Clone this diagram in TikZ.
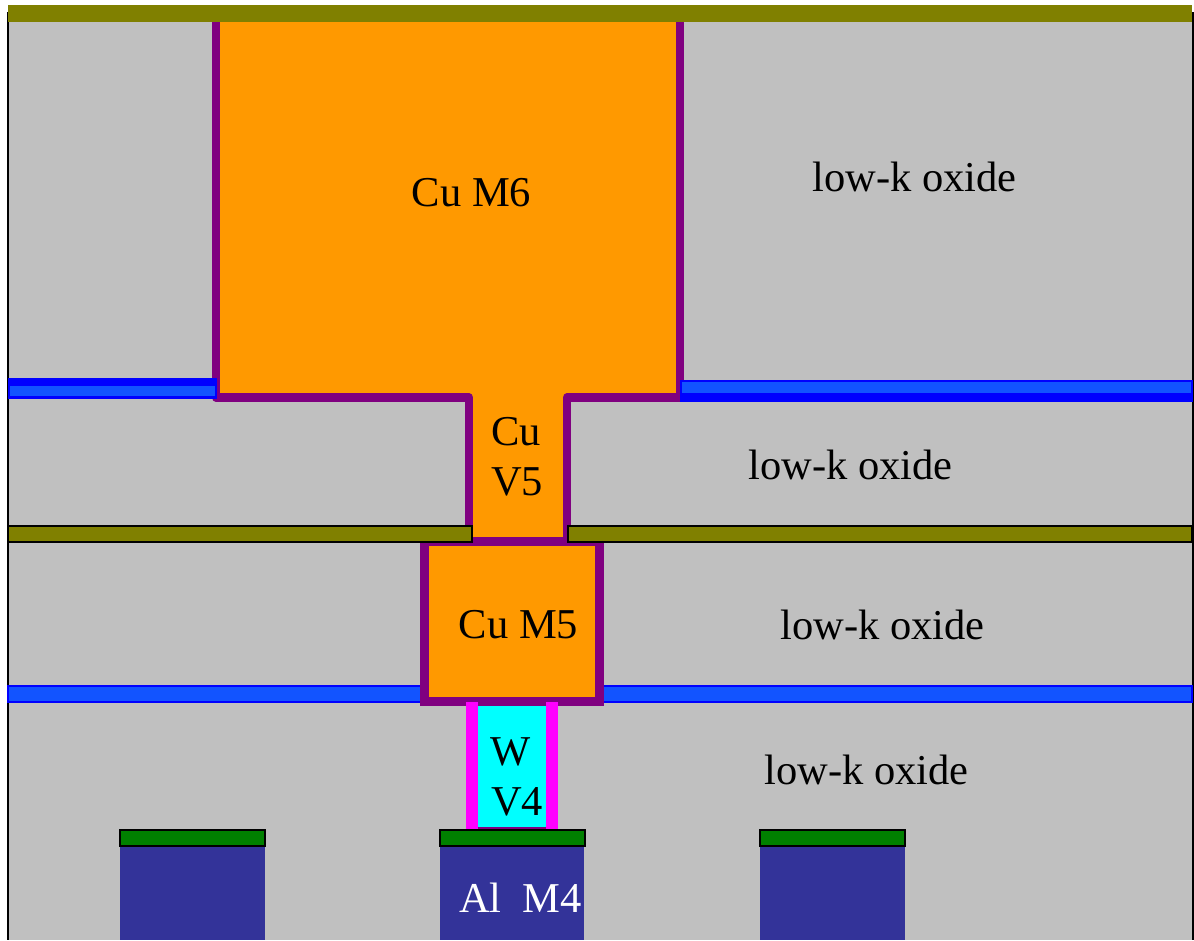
\documentclass[tikz,border=0pt]{standalone}
\usepackage{fontspec}
\setmainfont{Liberation Serif}
\definecolor{oxide}{RGB}{192,192,192}
\definecolor{olivebar}{RGB}{128,128,0}
\definecolor{copper}{RGB}{255,153,0}
\definecolor{liner}{RGB}{128,0,128}
\definecolor{bluefill}{RGB}{18,84,255}
\definecolor{alu}{RGB}{51,51,153}
\definecolor{capgreen}{RGB}{0,128,0}
\definecolor{purecyan}{RGB}{0,255,255}
\definecolor{puremagenta}{RGB}{255,0,255}
\definecolor{pureblue}{RGB}{0,0,255}
\tikzset{
  lbl/.style={font=\fontsize{31.9}{38}\selectfont,text=black,inner sep=0pt,align=center},
  barblack/.style={fill=olivebar,draw=black,line width=1.5pt},
  bluebar/.style={fill=bluefill,draw=pureblue,line width=1.5pt},
  linerline/.style={draw=liner,line width=6.6pt,line join=round,fill=copper}
}
\begin{document}
\begin{tikzpicture}[x=0.75pt,y=-0.75pt]
\useasboundingbox (0,0) rectangle (1194,940);
\fill[white] (0,0) rectangle (1194,940);
% oxide
\fill[oxide] (8,12) rectangle (1192,940);
\draw[black,line width=1.5pt] (8,12) -- (8,940);
\draw[black,line width=1.5pt] (1192.5,12) -- (1192.5,940);
% lowest blue layer
\draw[bluebar] (8,686) rectangle (1192,702);
% M5
\draw[linerline,line join=miter] (424.5,541.5) rectangle (599.5,701.5);
% M6 + V5
\draw[linerline] (216,16) -- (216,397.5) -- (469,397.5) -- (469,541.5) -- (567,541.5) -- (567,397.5) -- (680,397.5) -- (680,16);
% upper blue layers, over the liner
\fill[pureblue] (8,378) rectangle (217,399);
\fill[bluefill] (10,386) rectangle (215,396);
\fill[pureblue] (680,380) rectangle (1193,402);
\fill[bluefill] (682,382) rectangle (1191,393);
% middle olive bars
\draw[barblack] (8,526) rectangle (472,542);
\draw[barblack] (568,526) rectangle (1192,542);
% top olive bar
\fill[olivebar] (8,5) rectangle (1192,22);
% W via
\fill[purecyan] (478,706) rectangle (546,829);
\fill[liner] (472,827) rectangle (553,831);
\fill[puremagenta] (466,702) rectangle (478,830);
\fill[puremagenta] (546,702) rectangle (558,830);
% Al lines
\fill[alu] (120,846) rectangle (265,940);
\fill[alu] (440,846) rectangle (584,940);
\fill[alu] (760,846) rectangle (905,940);
\draw[fill=capgreen,draw=black,line width=1.5pt] (120,830) rectangle (264.5,846);
\draw[fill=capgreen,draw=black,line width=1.5pt] (440,830) rectangle (584.5,846);
\draw[fill=capgreen,draw=black,line width=1.5pt] (760,830) rectangle (904.5,846);
% labels
\node[lbl] (m6) at (471.5,193) {Cu M6};
\node[lbl] (ox1) at (914.5,177) {low-k oxide};
\node[lbl] (v5a) at (516,432) {Cu};
\node[lbl] (v5b) at (517,482) {V5};
\node[lbl] (ox2) at (850.5,465) {low-k oxide};
\node[lbl] (m5) at (518.5,625) {Cu M5};
\node[lbl] (ox3) at (882.5,625) {low-k oxide};
\node[lbl] (wa) at (511,752) {W};
\node[lbl] (wb) at (517,802) {V4};
\node[lbl] (ox4) at (866.5,770) {low-k oxide};
\node[lbl,text=white] (al) at (520.5,898) {Al\hspace{0.25em} M4};
\end{tikzpicture}
\end{document}
